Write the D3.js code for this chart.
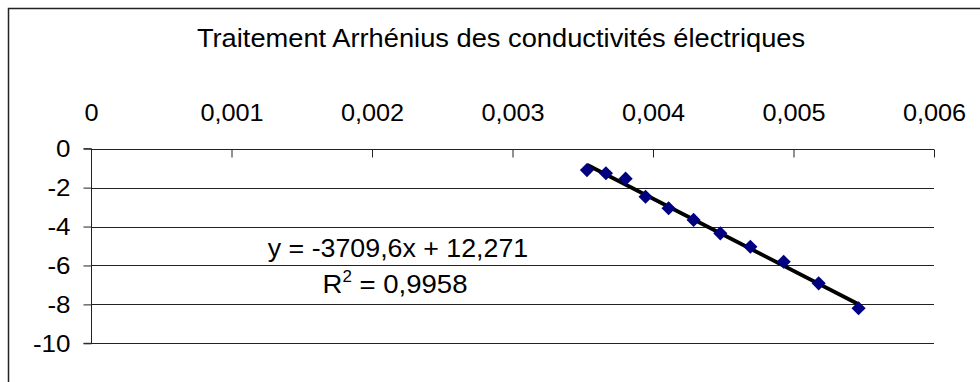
<!DOCTYPE html>
<html>
<head>
<meta charset="utf-8">
<script src="https://cdn.jsdelivr.net/npm/d3@7"></script>
<style>
  html, body { margin: 0; padding: 0; background: #fff; }
  svg { display: block; font-family: Arial, "Liberation Sans", sans-serif; }
</style>
</head>
<body>
<svg id="chart" width="980" height="382"></svg>
<script>
// ---- data ----
const title = "Traitement Arrhénius des conductivités électriques";
const invT = [0.00353, 0.003665, 0.003805, 0.003947, 0.004111, 0.004289, 0.004479, 0.004693, 0.00493, 0.005179, 0.005463];
const lnSigma = [-1.10, -1.26, -1.54, -2.47, -3.06, -3.66, -4.35, -5.04, -5.81, -6.92, -8.20];
const xTicks = [0, 0.001, 0.002, 0.003, 0.004, 0.005, 0.006];
const xTickLabels = ["0", "0,001", "0,002", "0,003", "0,004", "0,005", "0,006"];
const yTicks = [0, -2, -4, -6, -8, -10];
const yTickLabels = ["0", "-2", "-4", "-6", "-8", "-10"];
const trendSlope = -3709.6;
const trendIntercept = 12.271;
const equationText = "y = -3709,6x + 12,271";
const r2Value = "0,9958";

// ---- layout ----
const svg = d3.select("#chart");
const pLeft = 91, pRight = 934, pTop = 148.7, pBottom = 343.3;
const fontFam = "Arial, 'Liberation Sans', sans-serif";

svg.append("rect").attr("x", 0).attr("y", 0).attr("width", 980).attr("height", 382).attr("fill", "#fff");
// outer chart border (cropped at right/bottom)
svg.append("rect").attr("x", 8.5).attr("y", 8.5).attr("width", 1100).attr("height", 500)
  .attr("fill", "none").attr("stroke", "#222").attr("stroke-width", 1.5);

const x = d3.scaleLinear().domain([0, 0.006]).range([pLeft, pRight]);
const y = d3.scaleLinear().domain([-10, 0]).range([pBottom, pTop]);

// title
svg.append("text").attr("transform", "translate(501,47) scale(1.07,1)").attr("text-anchor", "middle")
  .attr("font-size", 25.5).attr("fill", "#000").text(title);

// gridlines
svg.append("g").selectAll("line").data(yTicks).join("line")
  .attr("x1", pLeft).attr("x2", pRight)
  .attr("y1", d => Math.round(y(d)) + 0.5).attr("y2", d => Math.round(y(d)) + 0.5)
  .attr("stroke", "#222").attr("stroke-width", 1);

// y axis
const yAxis = d3.axisLeft(y).tickValues(yTicks).tickSize(8).tickPadding(13)
  .tickFormat((d, i) => yTickLabels[i]);
const gy = svg.append("g").attr("transform", `translate(${pLeft + 0.5},0)`).call(yAxis);
gy.select(".domain").attr("stroke", "#222").attr("d", `M-8,${pTop}H0V${pBottom}H-8`);
gy.selectAll(".tick line").attr("stroke", "#222");
gy.selectAll(".tick text").attr("font-size", 23).attr("font-family", fontFam)
  .attr("fill", "#000").attr("x", 0).attr("dy", "0.36em")
  .attr("transform", "translate(-21,0) scale(1.13,1)");

// x axis (at top, ticks pointing down)
const xAxis = d3.axisTop(x).tickValues(xTicks).tickSize(-8).tickPadding(30)
  .tickFormat((d, i) => xTickLabels[i]);
const gx = svg.append("g").attr("transform", `translate(0,${Math.round(pTop) + 0.5})`).call(xAxis);
gx.select(".domain").remove();
gx.selectAll(".tick line").attr("stroke", "#222");
gx.selectAll(".tick text").attr("font-size", 23).attr("font-family", fontFam)
  .attr("fill", "#000").attr("y", 0).attr("dy", 0)
  .attr("transform", "translate(0,-29) scale(1.1,1)");

// trend line
const xMin = d3.min(invT), xMax = d3.max(invT);
const trend = [xMin, xMax].map(v => [v, trendSlope * v + trendIntercept]);
svg.append("path").datum(trend)
  .attr("d", d3.line().x(d => x(d[0])).y(d => y(d[1])))
  .attr("stroke", "#000").attr("stroke-width", 3.8).attr("fill", "none");

// markers
const pts = invT.map((v, i) => [v, lnSigma[i]]);
svg.append("g").selectAll("path").data(pts).join("path")
  .attr("d", d3.symbol(d3.symbolSquare, 100))
  .attr("transform", d => `translate(${x(d[0])},${y(d[1])}) rotate(45)`)
  .attr("fill", "#000080");

// equation label
const eq = svg.append("g").attr("font-size", 26).attr("fill", "#000");
eq.append("text").attr("transform", "translate(398,257) scale(1.03,1)").attr("text-anchor", "middle").text(equationText);
const r2 = eq.append("text").attr("transform", "translate(395,293) scale(1.06,1)").attr("text-anchor", "middle");
r2.append("tspan").text("R");
r2.append("tspan").attr("font-size", 16).attr("dy", -11).text("2");
r2.append("tspan").attr("dy", 11).text(" = " + r2Value);
</script>
</body>
</html>
